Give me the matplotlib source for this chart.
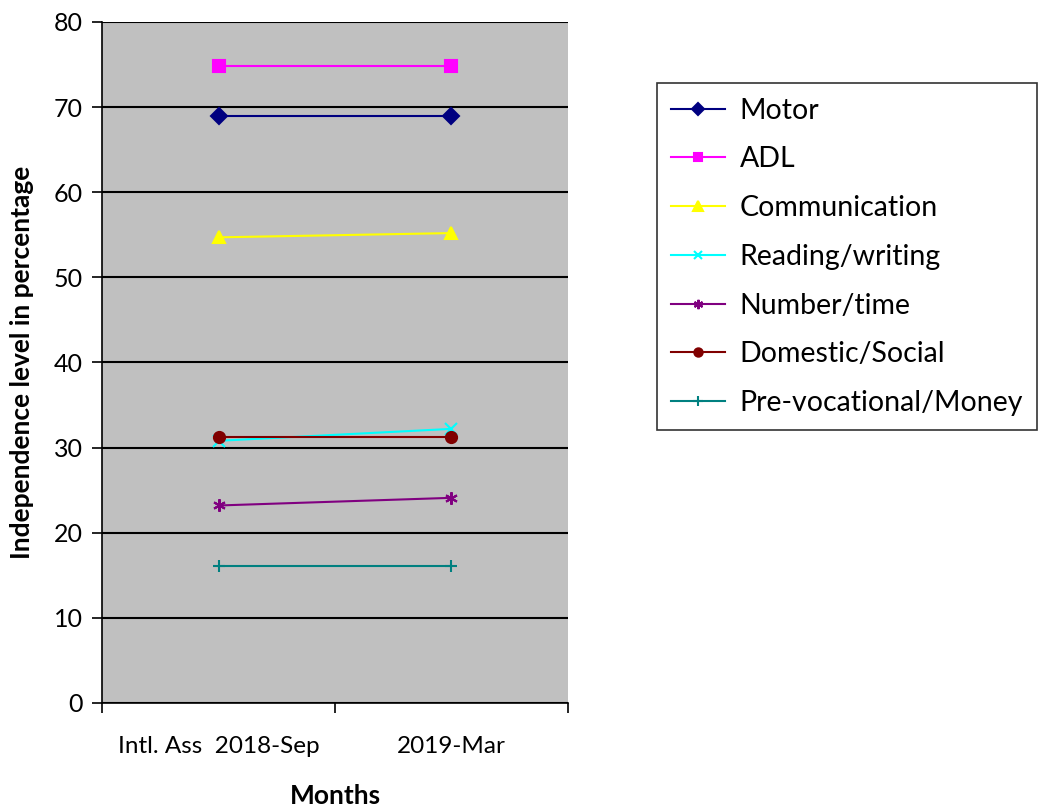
import matplotlib

matplotlib.use("Agg")

import matplotlib.pyplot as plt

plt.rcParams["font.family"] = ["Lato", "DejaVu Sans"]

# -----------------------------------------
# Data
# -----------------------------------------

months = ["Intl. Ass  2018-Sep", "2019-Mar"]

motor = [69.0, 69.0]
adl = [74.8, 74.8]
communication = [54.7, 55.2]
reading_writing = [30.8, 32.2]
number_time = [23.2, 24.1]
domestic_social = [31.3, 31.3]
prevocational_money = [16.1, 16.1]

series = [
    ("Motor", motor, "#000080", "D", 8),
    ("ADL", adl, "#FF00FF", "s", 8),
    ("Communication", communication, "#FFFF00", "^", 9),
    ("Reading/writing", reading_writing, "#00FFFF", "x", 8),
    ("Number/time", number_time, "#800080", (6, 2, 0), 9),
    ("Domestic/Social", domestic_social, "#800000", "o", 8),
    ("Pre-vocational/Money", prevocational_money, "#008080", "+", 9),
]

fig = plt.figure(figsize=(10.42, 8.11), dpi=100)
ax = fig.add_axes([0.0979, 0.1332, 0.4472, 0.8397])
ax.set_facecolor("#C0C0C0")

x = list(range(len(months)))

for name, vals, color, marker, ms in series:
    ax.plot(
        x,
        vals,
        color=color,
        marker=marker,
        markersize=ms,
        markeredgewidth=1.5,
        linewidth=1.5,
        label=name,
    )

ax.set_ylim(0, 80)
ax.set_yticks(range(0, 81, 10))
ax.yaxis.grid(True, color="black", linewidth=1.5)
ax.set_axisbelow(True)

ax.set_xlim(-0.5, len(months) - 0.5)
ax.set_xticks([-0.5, 0.5, 1.5])
ax.set_xticklabels([])
ax.set_xticks(x, minor=True)
ax.set_xticklabels(months, minor=True)
ax.tick_params(axis="x", which="minor", length=0, pad=24, labelsize=17.5)
ax.tick_params(axis="x", which="major", length=7, width=1.2)
ax.tick_params(axis="y", length=7, width=1.2, labelsize=18, pad=7)

for side in ["top", "right"]:
    ax.spines[side].set_visible(False)
for side in ["left", "bottom"]:
    ax.spines[side].set_linewidth(1.2)

ax.set_xlabel("Months", fontsize=19, fontweight="bold")
ax.xaxis.set_label_coords(0.5, -0.119)
ax.set_ylabel(
    "Independence level in percentage",
    fontsize=19,
    fontweight="bold",
)
ax.yaxis.set_label_coords(-0.145, 0.5)

leg = ax.legend(
    loc="upper left",
    bbox_to_anchor=(1.191, 0.91),
    borderaxespad=0,
    fontsize=20.5,
    frameon=True,
    fancybox=False,
    edgecolor="black",
    handlelength=1.9,
    labelspacing=0.8,
    borderpad=0.5,
    handletextpad=0.5,
    markerscale=0.75,
)
leg.get_frame().set_linewidth(1.2)

plt.savefig("out.png", dpi=100)
plt.close()
